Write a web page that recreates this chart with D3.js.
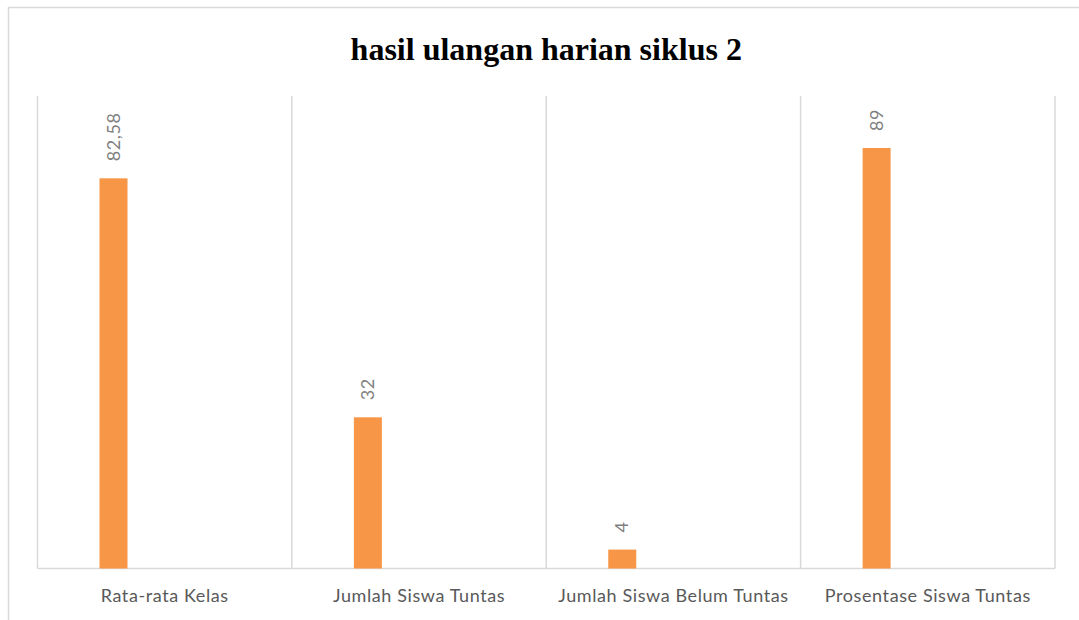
<!DOCTYPE html>
<html>
<head>
<meta charset="utf-8">
<script src="https://cdn.jsdelivr.net/npm/d3@7"></script>
<style>
  body { margin: 0; background: #fff; }
  svg { display: block; }
</style>
</head>
<body>
<div id="chart"></div>
<script>
// data
var categories = ["Rata-rata Kelas", "Jumlah Siswa Tuntas", "Jumlah Siswa Belum Tuntas", "Prosentase Siswa Tuntas"];
var values = [82.58, 32, 4, 89];
var valueLabels = ["82,58", "32", "4", "89"];
var chartTitle = "hasil ulangan harian siklus 2";

var W = 1079, H = 620;
var margin = {top: 96, right: 24, bottom: 51.5, left: 37.5};
var w = W - margin.left - margin.right;
var h = H - margin.top - margin.bottom;

var svg = d3.select("#chart").append("svg")
  .attr("width", W)
  .attr("height", H);

// outer chart border (cropped at right/bottom)
svg.append("rect")
  .attr("x", 8.5).attr("y", 7.5)
  .attr("width", W + 20).attr("height", H + 20)
  .attr("fill", "#fff")
  .attr("stroke", "#d9d9d9")
  .attr("stroke-width", 1.5);

svg.append("text")
  .attr("x", margin.left + w / 2)
  .attr("y", 60)
  .attr("text-anchor", "middle")
  .attr("font-family", "'Liberation Serif', 'Times New Roman', serif")
  .attr("font-weight", "bold")
  .attr("font-size", 32)
  .attr("fill", "#000")
  .text(chartTitle);

var g = svg.append("g")
  .attr("transform", "translate(" + margin.left + "," + margin.top + ")");

var xScale = d3.scaleBand().domain(categories).range([0, w]);
var yScale = d3.scaleLinear().domain([0, 100]).range([h, 0]);

// vertical gridlines at category boundaries
var bounds = categories.map(function(c) { return xScale(c); }).concat([w]);
g.selectAll("line.grid")
  .data(bounds)
  .enter().append("line")
  .attr("class", "grid")
  .attr("x1", function(d) { return d; })
  .attr("x2", function(d) { return d; })
  .attr("y1", 0)
  .attr("y2", h)
  .attr("stroke", "#d9d9d9")
  .attr("stroke-width", 1.5);

// baseline
g.append("line")
  .attr("x1", 0).attr("x2", w)
  .attr("y1", h).attr("y2", h)
  .attr("stroke", "#d9d9d9")
  .attr("stroke-width", 1.5);

var barW = 28;
var barOff = 62;

g.selectAll("rect.bar")
  .data(values)
  .enter().append("rect")
  .attr("class", "bar")
  .attr("x", function(d, i) { return xScale(categories[i]) + barOff; })
  .attr("y", function(d) { return yScale(d); })
  .attr("width", barW)
  .attr("height", function(d) { return h - yScale(d); })
  .attr("fill", "#F79646");

// rotated value labels
g.selectAll("text.val")
  .data(values)
  .enter().append("text")
  .attr("class", "val")
  .attr("transform", function(d, i) {
    var x = xScale(categories[i]) + barOff + barW / 2 + 6;
    var y = yScale(d) - 17;
    return "translate(" + x + "," + y + ") rotate(-90)";
  })
  .attr("font-family", "Lato, 'Open Sans', sans-serif")
  .attr("font-size", 18)
  .attr("letter-spacing", 0.6)
  .attr("fill", "#7f7f7f")
  .text(function(d, i) { return valueLabels[i]; });

// category labels
var xAxis = d3.axisBottom(xScale).tickSize(0).tickPadding(21);
var ax = g.append("g")
  .attr("transform", "translate(0," + h + ")")
  .call(xAxis);
ax.select(".domain").remove();
ax.selectAll("text")
  .attr("font-family", "Lato, 'Open Sans', sans-serif")
  .attr("font-size", 18)
  .attr("letter-spacing", 0.6)
  .attr("fill", "#595959");
</script>
</body>
</html>
